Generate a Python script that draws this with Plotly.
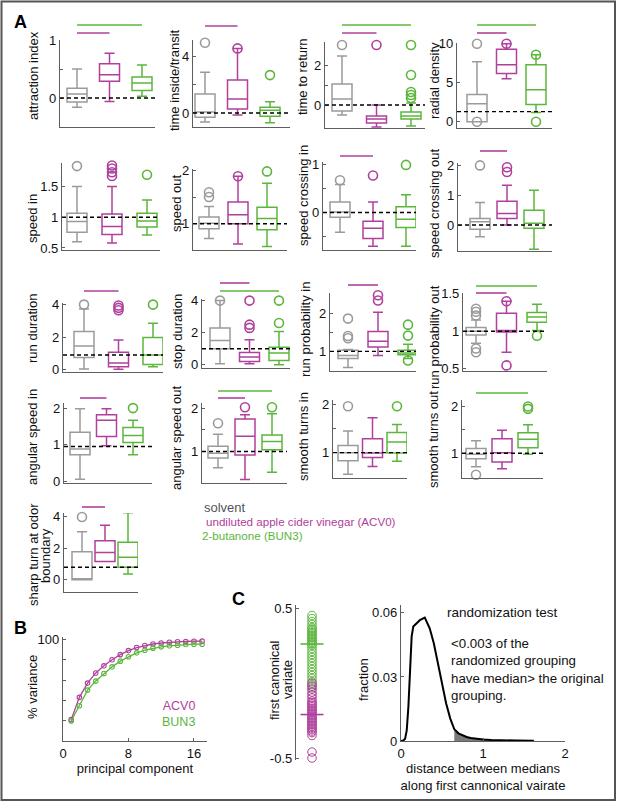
import numpy as np
import plotly.graph_objects as go

# ---------------- data ----------------
group_names = ["solvent", "undiluted apple cider vinegar (ACV0)", "2-butanone (BUN3)"]
metric_names = ["attraction index", "time inside/transit", "time to return", "radial density",
                "speed in", "speed out", "speed crossing in", "speed crossing out",
                "run duration", "stop duration", "run probability in", "run probability out",
                "angular speed in", "angular speed out", "smooth turns in", "smooth turns out",
                ["sharp turn at odor", "boundary"]]
# each row: [solvent, ACV0, BUN3]
box_q1 = [[-0.07, 0.29, 0.13], [-0.3, 0.29, -0.23], [-0.3, -0.9, -0.7], [0.0, 6.2, 2.2],
          [0.755, 0.72, 0.84], [0.906, 1.0, 0.89], [-0.10, -0.54, -0.31], [-0.14, 0.22, -0.11],
          [0.75, 0.17, 0.31], [1.0, 0.21, 0.27], [0.81, 1.12, 0.91], [0.95, 0.99, 1.12],
          [0.72, 1.22, 1.06], [0.85, 0.92, 1.04], [0.83, 0.9, 0.99], [0.88, 0.81, 1.12],
          [0.0, 1.16, 0.8]]
box_median = [[0.07, 0.4, 0.26], [0.07, 1.0, 0.2], [0.3, -0.7, -0.55], [2.3, 7.3, 4.1],
              [0.93, 0.85, 0.94], [1.01, 1.17, 1.1], [0.01, -0.33, -0.14], [0.11, 0.39, 0.06],
              [1.45, 0.41, 0.89], [1.52, 0.48, 0.73], [0.89, 1.27, 0.96], [1.0, 1.01, 1.19],
              [0.88, 1.67, 1.25], [0.96, 1.35, 1.23], [1.0, 0.99, 1.22], [0.98, 1.01, 1.3],
              [0.0, 1.73, 1.43]]
box_q3 = [[0.17, 0.59, 0.36], [1.36, 2.35, 0.4], [1.05, -0.55, -0.35], [3.5, 9.3, 7.3],
          [1.065, 1.05, 1.065], [1.125, 1.41, 1.31], [0.22, -0.18, 0.12], [0.22, 0.8, 0.5],
          [2.34, 1.06, 1.97], [2.29, 0.77, 1.1], [1.03, 1.53, 1.03], [1.05, 1.24, 1.25],
          [1.34, 1.82, 1.47], [1.12, 1.75, 1.38], [1.15, 1.29, 1.42], [1.1, 1.31, 1.44],
          [1.79, 2.48, 2.38]]
whisker_low = [[-0.16, -0.06, 0.03], [-0.65, -0.14, -0.7], [-0.5, -1.1, -1.05], [0.0, 5.5, 1.2],
               [0.6, 0.58, 0.71], [0.725, 0.62, 0.575], [-0.41, -0.70, -0.70], [-0.39, 0.0, -0.81],
               [0.04, 0.02, 0.17], [0.06, 0.06, 0.0], [0.57, 0.89, 0.81], [0.84, 0.72, 1.01],
               [0.05, 0.97, 0.72], [0.62, 0.35, 0.52], [0.55, 0.71, 0.82], [0.71, 0.67, 0.98],
               [0.0, 1.16, 0.36]]
whisker_high = [[0.5, 0.77, 0.57], [2.9, 4.6, 0.8], [2.45, 0.0, 0.1], [7.7, 10.0, 8.6],
                [1.5, 1.5, 1.28], [1.325, 1.89, 1.76], [0.58, 0.22, 0.37], [0.76, 1.33, 1.17],
                [3.73, 1.82, 2.86], [4.0, 1.56, 2.08], [1.05, 2.04, 1.19], [1.15, 1.4, 1.36],
                [1.98, 1.98, 1.67], [1.4, 1.85, 1.87], [1.45, 1.73, 1.59], [1.27, 1.49, 1.61],
                [3.05, 3.47, 4.27]]
outliers = [[[], [], []],
            [[5.0], [4.6], [2.7]],
            [[3.0], [3.0], [3.0, 1.5, 0.65, 0.5, 0.35]],
            [[10.0, 0.0], [10.0], [8.6, 0.0]],
            [[1.83], [1.84, 1.79, 1.73, 1.67], [1.69]],
            [[1.59, 1.5], [1.89], [1.98]],
            [[0.67], [0.77], [0.99]],
            [[2.0], [1.94, 1.78], []],
            [[4.0], [3.95, 3.8, 3.65], [4.0]],
            [[4.0], [4.0, 2.5, 2.3], [4.0, 2.6]],
            [[1.87, 1.41, 1.35], [2.49, 2.35], [1.71, 1.42, 0.76]],
            [[1.3, 1.26, 1.21, 0.77, 0.72], [1.4, 0.545], [0.94]],
            [[], [], [2.0]],
            [[1.65], [2.02], [2.02]],
            [[1.97], [], [1.97]],
            [[0.54], [], [2.0, 1.95]],
            [[4.0], [], []]]
baseline = [0, 0, 0, 1.3, 1, 1, 0, 0, 0.9, 1.0, 1, 1, 0.95, 1, 1, 1, 0.8]
# significant comparisons vs solvent: (metric index, group index)
sig_pairs = [(0, 2), (0, 1), (1, 1), (2, 2), (2, 1), (3, 2), (3, 1), (6, 1), (7, 1), (8, 1),
             (9, 1), (9, 2), (10, 1), (11, 2), (11, 1), (12, 1), (13, 2), (13, 1), (15, 2), (16, 1)]

# panel B: cumulative % variance by principal component
pc_index = list(range(1, 18))
acv0_variance = [21, 43, 57, 67, 74, 80, 85, 89, 92, 94, 95.5, 96.5, 97.2, 97.7, 98.0, 98.2, 98.3]
bun3_variance = [19.7, 34.7, 50.1, 59.0, 66.5, 73.0, 78.6, 82.9, 86.8, 89.4, 91.4, 92.7, 93.7, 94.3, 95.0, 95.3, 95.3]

# panel C: first canonical variate per animal
cv_bun3 = [0.45, 0.43, 0.41, 0.39, 0.37, 0.36, 0.35, 0.34, 0.33, 0.32, 0.31, 0.30, 0.29, 0.28, 0.27,
           0.26, 0.25, 0.23, 0.21, 0.19, 0.17, 0.15, 0.13, 0.11, 0.09, 0.07, 0.05, 0.03, 0.01, -0.01, -0.03]
cv_acv0 = [0.0, -0.02, -0.04, -0.06, -0.08, -0.10, -0.12, -0.13, -0.14, -0.15, -0.16, -0.17, -0.18, -0.19,
           -0.20, -0.21, -0.22, -0.23, -0.24, -0.25, -0.26, -0.27, -0.28, -0.29, -0.30, -0.31, -0.32,
           -0.33, -0.35, -0.46, -0.50]
# randomization test distribution
rand_dist = [0.0, 0.03, 0.05, 0.07, 0.09, 0.11, 0.13, 0.15, 0.19, 0.23, 0.29, 0.31, 0.35, 0.40, 0.45,
             0.50, 0.55, 0.60, 0.65, 0.70, 0.75, 0.80, 0.85, 0.90, 1.0, 1.1, 1.2, 1.4, 1.62]
rand_frac = [0.0, 0.0003, 0.0011, 0.005, 0.016, 0.035, 0.049, 0.0536, 0.055, 0.0566, 0.0578, 0.0562,
             0.0528, 0.0458, 0.0364, 0.0262, 0.0177, 0.0106, 0.0055, 0.0036, 0.0027, 0.0019, 0.0014,
             0.0011, 0.0007, 0.0005, 0.0003, 0.0002, 0.0001]
observed_distance = 0.65

# ---------------- layout settings ----------------
W, H = 617, 802
FONT = "Liberation Sans, Arial, Helvetica, sans-serif"
GRAY, MAG, GRN = "#9b9b9b", "#b0409c", "#5cb63d"
COLORS = [GRAY, MAG, GRN]
AXC = "#5e5e5e"
TXT = "#111111"

# pixel boxes (left, top, right, bottom) and box-centre pixels (first, last)
panel_px = [(60, 40, 155, 127), (193, 40, 290, 127), (325, 42, 425, 128), (457, 43, 552, 128),
            (62, 163, 160, 250), (193, 169, 287, 250), (323, 162, 416, 250), (458, 163, 552, 251),
            (63, 303, 163, 372), (202, 299, 290, 368), (330, 293, 416, 371), (463, 293, 547, 371),
            (64, 403, 152, 483), (202, 403, 287, 483), (333, 400, 407, 478), (462, 400, 543, 478),
            (64, 513, 138, 592)]
centre_px = [(77, 142), (205, 270), (342, 411), (477, 536), (77, 147), (209, 267), (340, 406),
             (480, 534), (84, 153), (220, 279), (348, 408), (476, 537), (80, 133), (218, 272),
             (348, 397), (476, 528), (82, 128)]
# y-title line centres (x list, y centre)
ytitle_px = [([34], 76), ([174], 80), ([303], 77), ([435], 81), ([32], 219), ([177], 203), ([303], 196),
             ([435], 203), ([32], 329), ([177], 331), ([305], 330), ([434], 337), ([32], 437), ([177], 438),
             ([303], 437), ([433], 439), ([33, 45], 555)]
y_ranges = [[-0.5, 1.0], [-1.0, 5.2], [-1.15, 3.15], [-0.8, 10.1], [0.467, 1.88], [0.51, 2.025],
            [-0.78, 1.05], [-0.87, 2.08], [-0.15, 4.1], [-0.2, 4.1], [0.48, 2.55], [0.47, 1.51],
            [-0.05, 2.14], [0.27, 2.12], [0.47, 2.1], [0.47, 2.14], [-0.78, 4.25]]
y_ticks = [([0, 0.5, 1], ["0", "", "1"]), ([0, 2, 4], ["0", "", "4"]), ([0, 1, 2], ["0", "", "2"]),
           ([0, 5, 10], ["0", "5", "10"]), ([0.5, 1, 1.5], ["0.5", "1", "1.5"]), ([1, 1.5, 2], ["1", "", "2"]),
           ([-0.5, 0, 0.5, 1], ["", "0", "", "1"]), ([0, 1, 2], ["0", "1", "2"]), ([0, 2, 4], ["0", "2", "4"]),
           ([0, 2, 4], ["0", "2", "4"]), ([1, 1.5, 2], ["1", "", "2"]), ([0.5, 1, 1.5], ["0.5", "1", "1.5"]),
           ([0, 1, 2], ["0", "1", "2"]), ([1, 1.5, 2], ["1", "", "2"]), ([1, 1.5, 2], ["1", "", "2"]),
           ([1, 1.5, 2], ["1", "", "2"]), ([0, 2, 4], ["0", "2", "4"])]
sig_offset_px = [15, 7, 14, 17, 9, 18, 10, 6, 12, 12, 16, 8, 8, 7, 0, 5, 12, 5, 7, 6]
BOX_PX = 20

fig = go.Figure()
shapes = []
annotations = []
layout_axes = {}


def axnames(i):
    s = "" if i == 1 else str(i)
    return "x" + s, "y" + s, "xaxis" + s, "yaxis" + s


def dom(l, t, r, b):
    return [l / W, r / W], [1 - b / H, 1 - t / H]


def vtext(text, x, y, color=TXT, size=13):
    return dict(text=text, xref="paper", yref="paper", x=x / W, y=1 - y / H, textangle=-90,
                xanchor="center", yanchor="middle", showarrow=False,
                font=dict(size=size, color=color, family=FONT))


base_axis = dict(showline=True, linecolor=AXC, linewidth=1.3, showgrid=False, zeroline=False,
                 automargin=False, fixedrange=True, tickfont=dict(size=13, color=TXT, family=FONT),
                 ticks="inside", ticklen=3, tickcolor=AXC, tickwidth=1)

# ---------- panel A: box plots ----------
for k in range(17):
    xa, ya, xk, yk = axnames(k + 1)
    l, t, r, b = panel_px[k]
    c1, c3 = centre_px[k]
    ppu = (c3 - c1) / 2.0
    xr = [1 - (c1 - l) / ppu, 3 + (r - c3) / ppu]
    bw = BOX_PX / ppu
    xd, yd = dom(l, t, r, b)
    layout_axes[xk] = dict(base_axis, domain=xd, range=xr, anchor=ya, showticklabels=False, ticks="")
    tv, tt = y_ticks[k]
    layout_axes[yk] = dict(base_axis, domain=yd, range=y_ranges[k], anchor=xa, tickvals=tv, ticktext=tt)
    lines = metric_names[k] if isinstance(metric_names[k], list) else [metric_names[k]]
    xs, ymid = ytitle_px[k]
    for line_text, xline in zip(lines, xs):
        annotations.append(vtext(line_text, xline, ymid))
    for g in range(3):
        fig.add_trace(go.Box(x=[g + 1], q1=[box_q1[k][g]], median=[box_median[k][g]], q3=[box_q3[k][g]],
                             lowerfence=[whisker_low[k][g]], upperfence=[whisker_high[k][g]],
                             orientation="v", width=bw, whiskerwidth=0.5, boxpoints=False,
                             line=dict(color=COLORS[g], width=1.5), fillcolor="rgba(0,0,0,0)",
                             xaxis=xa, yaxis=ya, showlegend=False, hoverinfo="skip"))
        outs = outliers[k][g]
        if outs:
            fig.add_trace(go.Scatter(x=[g + 1] * len(outs), y=outs, mode="markers", cliponaxis=False,
                                     marker=dict(symbol="circle-open", size=9, color=COLORS[g],
                                                 line=dict(width=1.6, color=COLORS[g])),
                                     xaxis=xa, yaxis=ya, showlegend=False, hoverinfo="skip"))
    shapes.append(dict(type="line", xref=xa + " domain", x0=0, x1=1, yref=ya, y0=baseline[k], y1=baseline[k],
                       line=dict(color="black", width=1.4, dash="4px,3px"), layer="above"))

for (k, g), off in zip(sig_pairs, sig_offset_px):
    xa, ya, _, _ = axnames(k + 1)
    l, t, r, b = panel_px[k]
    yy = 1 + off / (b - t)
    shapes.append(dict(type="line", xref=xa, x0=1, x1=g + 1, yref=ya + " domain", y0=yy, y1=yy,
                       line=dict(color=COLORS[g], width=1.6)))

# group legend text
legend_px = [(202, 507, 13), (204, 521, 11.6), (200, 535, 11.6)]
for g in range(3):
    x, y, fs = legend_px[g]
    annotations.append(dict(text=group_names[g], xref="paper", yref="paper", x=x / W, y=1 - y / H,
                            xanchor="left", yanchor="middle", showarrow=False,
                            font=dict(size=fs, color=COLORS[g] if g else "#555555", family=FONT)))

# ---------- panel B ----------
kB = 18
xa, ya, xk, yk = axnames(kB)
xd, yd = dom(63, 637, 207, 741)
layout_axes[xk] = dict(base_axis, domain=xd, range=[0, 17.6], anchor=ya, tickvals=[0, 8, 16],
                       title=dict(text="principal component", standoff=2, font=dict(size=13, color=TXT, family=FONT)))
layout_axes[yk] = dict(base_axis, domain=yd, range=[0, 102.4], anchor=xa, tickvals=[0, 20, 40, 60, 80, 100],
                       ticktext=["", "", "", "", "", "100"])
for vals, col in [(acv0_variance, MAG), (bun3_variance, GRN)]:
    fig.add_trace(go.Scatter(x=pc_index, y=vals, mode="lines+markers", cliponaxis=False,
                             line=dict(color=col, width=1.3),
                             marker=dict(symbol="circle-open", size=4.5, color=col, line=dict(width=1.1, color=col)),
                             xaxis=xa, yaxis=ya, showlegend=False, hoverinfo="skip"))
annotations.append(vtext("% variance", 32, 687))
annotations.append(dict(text="<span style='color:%s'>ACV0</span><br><span style='color:%s'>BUN3</span>" % (MAG, GRN),
                        xref=xa + " domain", yref=ya + " domain", x=0.93, y=0.255, align="right",
                        xanchor="right", yanchor="middle", showarrow=False, font=dict(size=12.5, family=FONT)))

# ---------- panel C: canonical variate strip ----------
kC = 19
xa, ya, xk, yk = axnames(kC)
xd, yd = dom(296, 605, 340, 760)
layout_axes[xk] = dict(base_axis, domain=xd, range=[0, 2.75], anchor=ya, showline=False, showticklabels=False, ticks="")
layout_axes[yk] = dict(base_axis, domain=yd, range=[-0.513, 0.52], anchor=xa, tickvals=[-0.5, 0.5],
                       ticktext=["-0.5", "0.5"])
for vals, col in [(cv_bun3, GRN), (cv_acv0, MAG)]:
    fig.add_trace(go.Scatter(x=[1] * len(vals), y=vals, mode="markers", cliponaxis=False,
                             marker=dict(symbol="circle-open", size=8.5, color=col, line=dict(width=1, color=col)),
                             xaxis=xa, yaxis=ya, showlegend=False, hoverinfo="skip"))
for vals, col in [(cv_bun3, GRN), (cv_acv0, MAG)]:
    m = float(np.median(vals))
    fig.add_trace(go.Scatter(x=[0.28, 1.72], y=[m, m], mode="lines", line=dict(color=col, width=1.6),
                             xaxis=xa, yaxis=ya, showlegend=False, hoverinfo="skip"))
annotations.append(vtext("first canonical", 274, 680))
annotations.append(vtext("variate", 287, 680))

# ---------- panel C: randomization histogram ----------
kD = 20
xa, ya, xk, yk = axnames(kD)
xd, yd = dom(401, 605, 565, 741)
layout_axes[xk] = dict(base_axis, domain=xd, range=[0, 2], anchor=ya, tickvals=[0, 1, 2],
                       title=dict(text="distance between medians<br>along first cannonical vairate", standoff=2,
                                  font=dict(size=13, color=TXT, family=FONT)))
layout_axes[yk] = dict(base_axis, domain=yd, range=[0, 0.0637], anchor=xa, tickvals=[0, 0.03, 0.06],
                       ticktext=["0", "0.03", "0.06"])
annotations.append(vtext("fraction", 363, 680))
rd = np.array(rand_dist)
rf = np.array(rand_frac)
mask = rd >= observed_distance
fig.add_trace(go.Scatter(x=rd[mask], y=rf[mask], mode="lines", fill="tozeroy", fillcolor="#7a7a7a",
                         line=dict(color="#7a7a7a", width=0.5), xaxis=xa, yaxis=ya, showlegend=False,
                         hoverinfo="skip"))
fig.add_trace(go.Scatter(x=rd, y=rf, mode="lines", line=dict(color="black", width=2),
                         xaxis=xa, yaxis=ya, showlegend=False, hoverinfo="skip"))
annotations.append(dict(text="randomization test", xref="paper", yref="paper", x=445 / W, y=1 - 612 / H,
                        xanchor="left", yanchor="middle", showarrow=False,
                        font=dict(size=13.5, color=TXT, family=FONT)))
annotations.append(dict(text="&lt;0.003 of the<br>randomized grouping<br>have median&gt; the original<br>grouping.",
                        xref="paper", yref="paper", x=449 / W, y=1 - 669 / H, xanchor="left", yanchor="middle",
                        align="left", showarrow=False, font=dict(size=13.3, color=TXT, family=FONT)))

# panel letters
for letter, (x, y) in zip(["A", "B", "C"], [(20, 22), (20, 628), (238, 599)]):
    annotations.append(dict(text="<b>%s</b>" % letter, xref="paper", yref="paper", x=x / W, y=1 - y / H,
                            xanchor="center", yanchor="middle", showarrow=False,
                            font=dict(size=18, color="black", family=FONT)))

# outer frame
shapes.append(dict(type="rect", xref="paper", yref="paper", x0=1.5 / W, x1=615 / W, y0=1 - 800 / H, y1=1 - 1.5 / H,
                   line=dict(color="#555555", width=2)))

fig.update_layout(width=W, height=H, margin=dict(l=0, r=0, t=0, b=0), template="none",
                  paper_bgcolor="white", plot_bgcolor="rgba(0,0,0,0)", showlegend=False,
                  font=dict(family=FONT, size=13, color=TXT), shapes=shapes, annotations=annotations,
                  boxmode="overlay", **layout_axes)
fig.write_html("out.html", config={"displayModeBar": False},
               post_script="document.body.style.margin='0px';document.body.style.overflow='hidden';")
